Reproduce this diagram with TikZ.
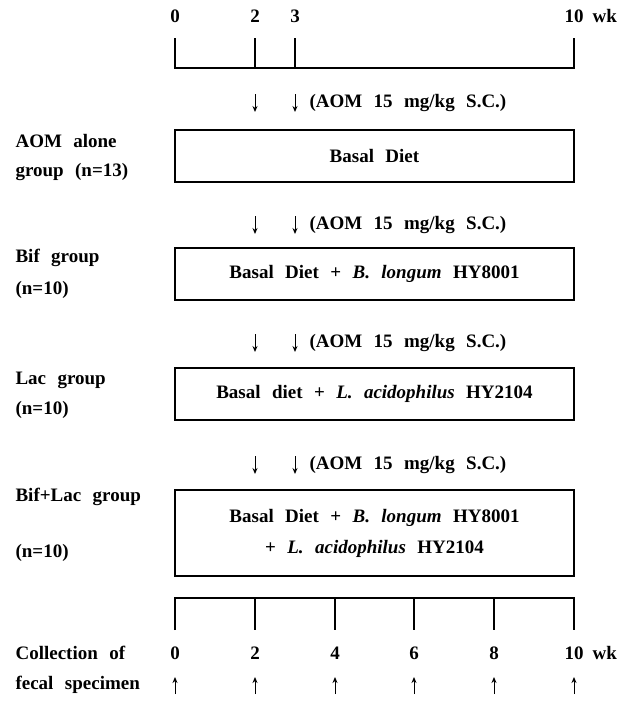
\documentclass[tikz,border=0pt]{standalone}
\usepackage{fontspec}
\setmainfont{Liberation Serif}
\usetikzlibrary{positioning,arrows.meta}
\newcommand\figfont{\fontsize{19}{31}\selectfont\bfseries\spaceskip=0.6em plus 0.1em\relax}
\tikzset{
  diet/.style={draw, minimum width=399pt, minimum height=52pt, align=center, inner sep=0pt},
  grp/.style={anchor=west, inner sep=0pt},
  aom/.style={anchor=west, inner sep=0pt},
  wklabel/.style={inner sep=0pt},
  inj/.style={-{Stealth[length=6pt, width=5pt]}, line width=1pt},
}

\begin{document}
\begin{tikzpicture}[x=1pt, y=-1pt, font=\figfont, line width=1.1pt]
  \useasboundingbox (0,0) rectangle (626,710);
  % time scale of the diets
  \node[wklabel] (t0) at (175,16) {0};
  \node[wklabel] (t2) at (255,16) {2};
  \node[wklabel] (t3) at (295,16) {3};
  \node[wklabel] (t10) at (574,16) {10};
  \node[wklabel, right=8pt of t10] (twk) {wk};
  \draw (175,38) -- (175,68) -- (574,68) -- (574,38);
  \draw (255,38) -- (255,68);
  \draw (295,38) -- (295,68);

  % AOM injections
  \draw[inj] (255,94) -- (255,112);
  \draw[inj] (295,94) -- (295,112);
  \node[aom] (aom1) at (309,103) {(AOM 15 mg/kg S.C.)};
  \draw[inj] (255,216) -- (255,234);
  \draw[inj] (295,216) -- (295,234);
  \node[aom] (aom2) at (309,225) {(AOM 15 mg/kg S.C.)};
  \draw[inj] (255,334) -- (255,352);
  \draw[inj] (295,334) -- (295,352);
  \node[aom] (aom3) at (309,343) {(AOM 15 mg/kg S.C.)};
  \draw[inj] (255,456) -- (255,474);
  \draw[inj] (295,456) -- (295,474);
  \node[aom] (aom4) at (309,465) {(AOM 15 mg/kg S.C.)};

  % groups
  \node[diet] (basal) at (374.5,156) {Basal Diet};
  \node[grp] (aomgrp) at (15,141) {AOM alone};
  \node[grp] (aomn) at (15,172) {group (n=13)};
  \node[diet] (bif) at (374.5,274) {Basal Diet + \textit{B. longum} HY8001};
  \node[grp] (bifgrp) at (15,258) {Bif group};
  \node[grp] (bifn) at (15,290) {(n=10)};
  \node[diet] (lac) at (374.5,394) {Basal diet + \textit{L. acidophilus} HY2104};
  \node[grp] (lacgrp) at (15,380) {Lac group};
  \node[grp] (lacn) at (15,410) {(n=10)};
  \node[diet, minimum height=86pt] (biflac) at (374.5,533)
    {Basal Diet + \textit{B. longum} HY8001\\+ \textit{L. acidophilus} HY2104};
  \node[grp] (biflacgrp) at (15,497) {Bif+Lac group};
  \node[grp] (biflacn) at (15,553) {(n=10)};

  % fecal collection
  \draw (175,630) -- (175,598) -- (574,598) -- (574,630);
  \draw (255,598) -- (255,630);
  \draw (335,598) -- (335,630);
  \draw (414,598) -- (414,630);
  \draw (494,598) -- (494,630);
  \node[wklabel] (f0) at (175,653) {0};
  \node[wklabel] (f2) at (255,653) {2};
  \node[wklabel] (f4) at (335,653) {4};
  \node[wklabel] (f6) at (414,653) {6};
  \node[wklabel] (f8) at (494,653) {8};
  \node[wklabel] (f10) at (574,653) {10};
  \node[wklabel, right=8pt of f10] (fwk) {wk};
  \node[grp] (coll) at (15,653) {Collection of};
  \node[grp] (fecal) at (15,685) {fecal specimen};
  \draw[inj] (175,694) -- (175,677);
  \draw[inj] (255,694) -- (255,677);
  \draw[inj] (335,694) -- (335,677);
  \draw[inj] (414,694) -- (414,677);
  \draw[inj] (494,694) -- (494,677);
  \draw[inj] (574,694) -- (574,677);
\end{tikzpicture}
\end{document}
